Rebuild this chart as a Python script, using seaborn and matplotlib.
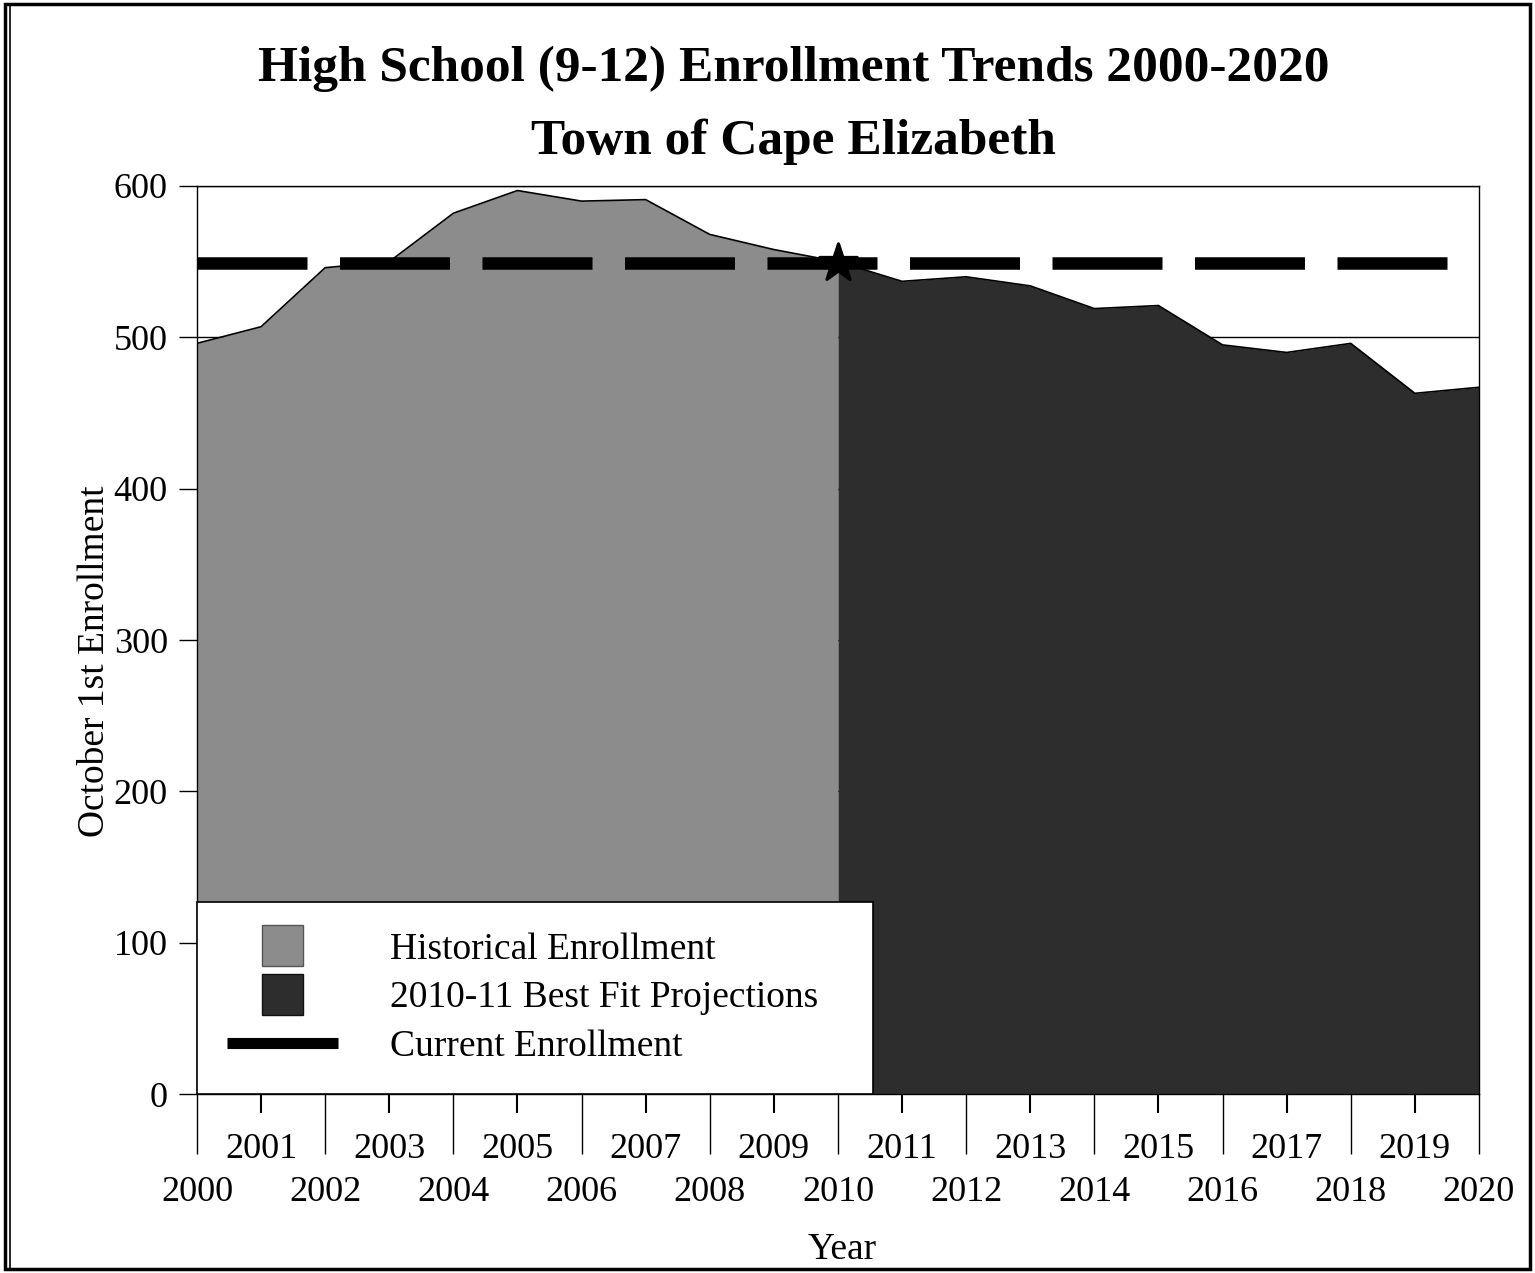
import matplotlib
matplotlib.use("Agg")
import matplotlib.pyplot as plt
import seaborn as sns
from matplotlib.patches import Patch, Rectangle
from matplotlib.lines import Line2D
from matplotlib.legend_handler import HandlerPatch

# data
years_hist = [2000, 2001, 2002, 2003, 2004, 2005, 2006, 2007, 2008, 2009, 2010]
enroll_hist = [496, 507, 546, 550, 582, 597, 590, 591, 568, 558, 550]
years_proj = [2010, 2011, 2012, 2013, 2014, 2015, 2016, 2017, 2018, 2019, 2020]
enroll_proj = [550, 537, 540, 534, 519, 521, 495, 490, 496, 463, 467]
current_enrollment = 549
even_years = list(range(2000, 2021, 2))
odd_years = list(range(2001, 2020, 2))
y_ticks = [0, 100, 200, 300, 400, 500, 600]

hist_color = "#8c8c8c"
proj_color = "#2d2d2d"

sns.set_theme(style="white")
plt.rcParams["font.family"] = ["Liberation Serif", "DejaVu Serif"]
plt.rcParams["text.color"] = "black"
plt.rcParams["axes.labelcolor"] = "black"
plt.rcParams["xtick.color"] = "black"
plt.rcParams["ytick.color"] = "black"

fig = plt.figure(figsize=(15.35, 12.73), dpi=100)
ax = fig.add_axes([0.1283, 0.1406, 0.8352, 0.7133])

ax.yaxis.grid(True, color="black", lw=1)
ax.set_axisbelow(True)

ax.fill_between(years_hist, enroll_hist, color=hist_color, zorder=2, lw=0)
ax.fill_between(years_proj, enroll_proj, color=proj_color, zorder=2, lw=0)
sns.lineplot(x=years_hist, y=enroll_hist, color="black", lw=1.2, ax=ax, zorder=3)
sns.lineplot(x=years_proj, y=enroll_proj, color="black", lw=1.2, ax=ax, zorder=3)

sns.lineplot(x=[years_hist[0], years_proj[-1]], y=[current_enrollment] * 2,
             color="black", lw=9, linestyle=(0, (8.8, 2.6)), ax=ax, zorder=4)
sns.scatterplot(x=[years_proj[0]], y=[current_enrollment], marker="*", s=800,
                color="black", edgecolor="black", ax=ax, zorder=5)

ax.set_xlim(2000, 2020)
ax.set_ylim(0, 600)
ax.set_yticks(y_ticks)
ax.set_xticks(even_years, [str(y) for y in even_years])
ax.set_xticks(odd_years, [str(y) for y in odd_years], minor=True)
ax.tick_params(axis="x", which="major", length=43, width=1, pad=16,
               labelsize=26, direction="out", bottom=True)
ax.tick_params(axis="x", which="minor", length=14, width=1.5, pad=14,
               labelsize=26, direction="out", bottom=True)
ax.tick_params(axis="y", length=13, width=1, pad=8, labelsize=26,
               direction="out", left=True)

for s in ax.spines.values():
    s.set_color("black")
    s.set_linewidth(1)
    s.set_zorder(6)

ax.set_xlabel("Year", fontsize=27)
ax.xaxis.set_label_coords(0.503, -0.152)
ax.set_ylabel("October 1st Enrollment", fontsize=27)
ax.yaxis.set_label_coords(-0.066, 0.477)

fig.text(0.517, 0.946, "High School (9-12) Enrollment Trends 2000-2020",
         ha="center", va="center", fontsize=37, fontweight="bold")
fig.text(0.517, 0.889, "Town of Cape Elizabeth",
         ha="center", va="center", fontsize=37, fontweight="bold")


def square_patch(legend, orig_handle, xdescent, ydescent, width, height, fontsize):
    side = fontsize * 1.1
    return Rectangle((xdescent + width / 2 - side / 2, ydescent + height / 2 - side / 2),
                     side, side)


handles = [
    Patch(facecolor=hist_color, edgecolor="#555555"),
    Patch(facecolor=proj_color, edgecolor="#111111"),
    Line2D([], [], color="black", lw=8, solid_capstyle="butt"),
]
labels = ["Historical Enrollment", "2010-11 Best Fit Projections", "Current Enrollment"]
leg = ax.legend(handles, labels, loc="lower left", bbox_to_anchor=(0, 0, 0.527, 0.2),
                mode="expand", borderaxespad=0, fontsize=27, frameon=True,
                fancybox=False, edgecolor="black", framealpha=1,
                handlelength=2.95, handletextpad=1.4, borderpad=0.8, labelspacing=0.38,
                handler_map={Patch: HandlerPatch(patch_func=square_patch)})
leg.get_frame().set_linewidth(1.2)
leg.set_zorder(7)

fig.add_artist(Rectangle((0.003, 0.003), 0.994, 0.994, transform=fig.transFigure,
                         fill=False, lw=2.5, edgecolor="black"))
fig.add_artist(Line2D([0.0065, 0.0065], [0.003, 0.997], transform=fig.transFigure,
                      color="black", lw=1.2))

fig.savefig("out.png", dpi=100)
